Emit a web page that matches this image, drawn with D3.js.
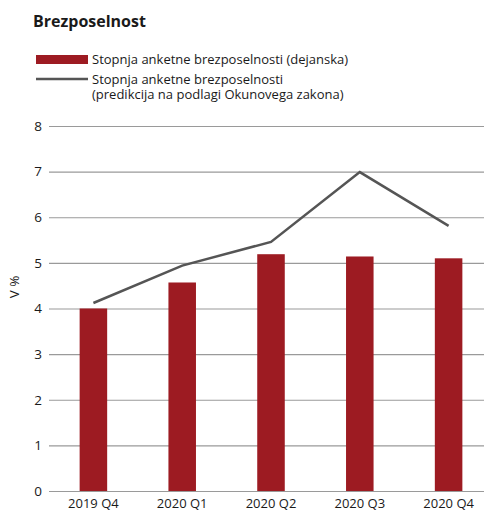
<!DOCTYPE html>
<html><head><meta charset="utf-8">
<script src="https://cdn.jsdelivr.net/npm/d3@7"></script>
<style>
html,body{margin:0;padding:0;background:#fff;}
text{font-family:"Open Sans","Noto Sans",sans-serif;fill:#1a1a1a;}
</style></head>
<body>
<svg id="c" width="484" height="513"></svg>
<script>
const categories = ["2019 Q4","2020 Q1","2020 Q2","2020 Q3","2020 Q4"];
const actual = [4.0, 4.57, 5.19, 5.14, 5.10];
const predicted = [4.12, 4.94, 5.46, 6.99, 5.81];
const yTicks = [0,1,2,3,4,5,6,7,8];
const title = "Brezposelnost";
const legendBar = "Stopnja anketne brezposelnosti (dejanska)";
const legendLine = ["Stopnja anketne brezposelnosti", "(predikcija na podlagi Okunovega zakona)"];
const yTitle = "V %";

const svg = d3.select("#c");
const barColor = "#9d1b22", lineColor = "#555555";

const x = d3.scaleBand().domain(categories).range([49, 493]).paddingInner(0.69).paddingOuter(0.345);
const y = d3.scaleLinear().domain([0, 8]).range([491, 126]);

// title
svg.append("text").attr("x", 33).attr("y", 26.5).attr("font-size", 16).attr("font-weight", 700).text(title);

// legend
svg.append("rect").attr("x", 36).attr("y", 55).attr("width", 52).attr("height", 9).attr("fill", barColor);
svg.append("text").attr("x", 92).attr("y", 64).attr("font-size", 13).text(legendBar);
svg.append("line").attr("x1", 36).attr("x2", 88).attr("y1", 79).attr("y2", 79).attr("stroke", lineColor).attr("stroke-width", 2.5);
svg.append("text").attr("x", 92).attr("y", 84).attr("font-size", 13).text(legendLine[0]);
svg.append("text").attr("x", 92).attr("y", 99).attr("font-size", 13).text(legendLine[1]);

// grid + y axis
const yAxis = d3.axisLeft(y).tickValues(yTicks).tickSize(-(484 - 49)).tickPadding(7).tickFormat(d3.format("d"));
const gy = svg.append("g").attr("transform", "translate(49,0)").call(yAxis);
gy.select(".domain").remove();
gy.selectAll(".tick line").attr("stroke", "#9a9a9a").attr("stroke-width", 1.2);
gy.selectAll(".tick text").attr("font-size", 13.5).attr("fill", "#1a1a1a").attr("font-family", '"Open Sans",sans-serif');

svg.append("text").attr("transform", "translate(19,287) rotate(-90)").attr("text-anchor", "middle").attr("font-size", 13.5).text(yTitle);

// bars
svg.append("g").selectAll("rect").data(actual).join("rect")
  .attr("x", (d, i) => x(categories[i]))
  .attr("width", x.bandwidth())
  .attr("y", d => y(d))
  .attr("height", d => y(0) - y(d))
  .attr("fill", barColor);

// x axis labels
const xAxis = d3.axisBottom(x).tickSize(0).tickPadding(8);
const gx = svg.append("g").attr("transform", "translate(0,491)").call(xAxis);
gx.select(".domain").remove();
gx.selectAll(".tick text").attr("font-size", 13).attr("fill", "#1a1a1a").attr("font-family", '"Open Sans",sans-serif');

// line
const line = d3.line().x((d, i) => x(categories[i]) + x.bandwidth() / 2).y(d => y(d));
svg.append("path").datum(predicted).attr("d", line).attr("fill", "none").attr("stroke", lineColor).attr("stroke-width", 2.5);
</script>
</body></html>
